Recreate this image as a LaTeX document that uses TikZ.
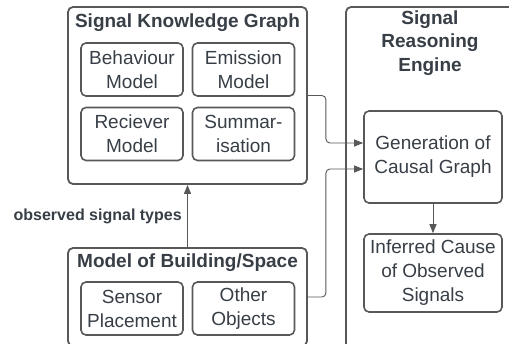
\documentclass[tikz,border=0pt]{standalone}
\usepackage{fontspec}
\setmainfont{Liberation Sans}
\usetikzlibrary{arrows.meta}
\definecolor{edge}{RGB}{88,88,88}
\definecolor{ink}{RGB}{55,62,70}

\begin{document}
\begin{tikzpicture}[x=1pt,y=-1pt,
  group/.style={draw=edge,line width=1.8pt,rounded corners=5pt},
  box/.style={draw=edge,line width=1.6pt,rounded corners=5pt,minimum width=102pt,minimum height=53pt,
    align=center,text=ink,font=\fontsize{19}{24}\selectfont},
  title/.style={align=center,text=ink,font=\bfseries\fontsize{19}{23.5}\selectfont},
  conn/.style={draw=edge,line width=0.9pt,rounded corners=4pt,-{Triangle[length=9pt,width=7pt]}}]
\useasboundingbox (0,0) rectangle (509,343);
\clip (0,0) rectangle (509,343);

% outer groups, the two at the bottom run off the page
\node[group,minimum width=239pt,minimum height=177pt] (skg) at (187.5,95.5) {};
\node[group,minimum width=239pt,minimum height=98pt] (mbs) at (187.5,297) {};
\node[group,minimum width=190pt,minimum height=345pt] (sre) at (441,179.5) {};

\node[title,anchor=base] (skgtitle) at (187.5,27) {Signal Knowledge Graph};
\node[title,anchor=base] (mbstitle) at (187.5,267) {Model of Building/Space};
\node[title,anchor=north] (sretitle) at (430,7) {Signal\\Reasoning\\Engine};

\node[box] (beh) at (132,69.5) {Behaviour\\Model};
\node[box] (emi) at (243.5,69.5) {Emission\\Model};
\node[box] (rec) at (132,134) {Reciever\\Model};
\node[box] (sum) at (243.5,134) {Summar-\\isation};

\node[box] (sen) at (132,308.5) {Sensor\\Placement};
\node[box] (oth) at (243.5,308.5) {Other\\Objects};

\node[box,minimum width=138pt,minimum height=92pt] (gen) at (433,157) {Generation of\\Causal Graph};
\node[box,minimum width=138pt,minimum height=78pt] (inf) at (433,273) {Inferred Cause\\of Observed\\Signals};

\draw[conn] (mbs.north) -- (skg.south)
  node[midway,left=2pt,text=ink,font=\bfseries\fontsize{16}{19}\selectfont] (obs) {observed signal types};
\draw[conn] (skg.east) -- ++(18,0) |- ([yshift=14pt]gen.west);
\draw[conn] (mbs.east) -- ++(18,0) |- ([yshift=-12pt]gen.west);
\draw[conn] (gen) -- (inf);

\end{tikzpicture}
\end{document}
